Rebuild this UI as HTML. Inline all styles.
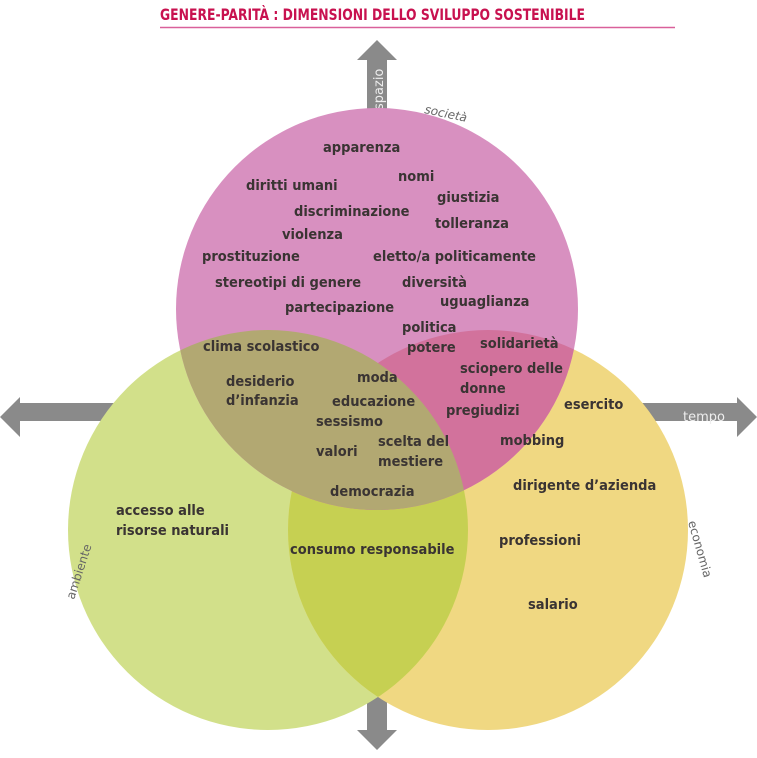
<!DOCTYPE html>
<html><head><meta charset="utf-8"><style>
body{margin:0;background:#fff;width:757px;height:758px;overflow:hidden}
svg{display:block}
.t{font-family:"DejaVu Sans Condensed","Liberation Sans",sans-serif;font-weight:bold;font-size:14.5px;fill:#3a3433}
</style></head><body>
<svg width="757" height="758" viewBox="0 0 757 758">
<defs>
<clipPath id="cp"><circle cx="377" cy="309" r="201"/></clipPath>
<clipPath id="cg"><circle cx="268" cy="530" r="200"/></clipPath>
<clipPath id="cy"><circle cx="488" cy="530" r="200"/></clipPath>
</defs>
<text x="160" y="20" textLength="425" lengthAdjust="spacingAndGlyphs" style="font-family:'DejaVu Sans Condensed','Liberation Sans',sans-serif;font-weight:bold;font-size:16px;fill:#c8114f">GENERE-PARITÀ : DIMENSIONI DELLO SVILUPPO SOSTENIBILE</text>
<line x1="160" y1="27.5" x2="675" y2="27.5" stroke="#d9609a" stroke-width="1.5"/>
<g fill="#8a8a8a">
<polygon points="367,60 357,60 377,40 397,60 387,60 387,730 397,730 377,750 357,730 367,730"/>
<polygon points="20,403 20,397 0,417 20,437 20,421 737,421 737,437 757,417 737,397 737,403"/>
</g>
<text x="0" y="0" transform="translate(383,110) rotate(-90)" style="font-family:'DejaVu Sans','Liberation Sans',sans-serif;font-size:13px;fill:#eee">spazio</text>
<text x="683" y="421" style="font-family:'DejaVu Sans','Liberation Sans',sans-serif;font-size:13px;fill:#eee">tempo</text>
<circle cx="268" cy="530" r="200" fill="#d2e08a"/>
<circle cx="488" cy="530" r="200" fill="#f0d882"/>
<g clip-path="url(#cg)"><circle cx="488" cy="530" r="200" fill="#c6d052"/></g>
<circle cx="377" cy="309" r="201" fill="#d890c0"/>
<g clip-path="url(#cy)"><circle cx="377" cy="309" r="201" fill="#d2729c"/></g>
<g clip-path="url(#cg)"><circle cx="377" cy="309" r="201" fill="#b2a872"/></g>
<text transform="translate(424,113) rotate(12)" style="font-family:'DejaVu Sans','Liberation Sans',sans-serif;font-size:12px;font-style:italic;fill:#666">società</text>
<text transform="translate(74,600) rotate(-72)" style="font-family:'DejaVu Sans','Liberation Sans',sans-serif;font-size:12px;fill:#666">ambiente</text>
<text transform="translate(688,522) rotate(74)" style="font-family:'DejaVu Sans','Liberation Sans',sans-serif;font-size:12px;fill:#666">economia</text>
<g class="t">
<text x="323" y="152">apparenza</text>
<text x="398" y="181">nomi</text>
<text x="246" y="190">diritti umani</text>
<text x="437" y="202">giustizia</text>
<text x="294" y="216">discriminazione</text>
<text x="435" y="228">tolleranza</text>
<text x="282" y="239">violenza</text>
<text x="202" y="261">prostituzione</text>
<text x="373" y="261">eletto/a politicamente</text>
<text x="215" y="287">stereotipi di genere</text>
<text x="402" y="287">diversità</text>
<text x="440" y="306">uguaglianza</text>
<text x="285" y="312">partecipazione</text>
<text x="402" y="332">politica</text>
<text x="407" y="352">potere</text>
<text x="480" y="348">solidarietà</text>
<text x="203" y="351">clima scolastico</text>
<text x="460" y="373">sciopero delle</text>
<text x="460" y="393">donne</text>
<text x="226" y="386">desiderio</text>
<text x="226" y="405">d’infanzia</text>
<text x="357" y="382">moda</text>
<text x="332" y="406">educazione</text>
<text x="316" y="426">sessismo</text>
<text x="446" y="415">pregiudizi</text>
<text x="564" y="409">esercito</text>
<text x="378" y="446">scelta del</text>
<text x="378" y="466">mestiere</text>
<text x="316" y="456">valori</text>
<text x="500" y="445">mobbing</text>
<text x="330" y="496">democrazia</text>
<text x="513" y="490">dirigente d’azienda</text>
<text x="116" y="515">accesso alle</text>
<text x="116" y="535">risorse naturali</text>
<text x="290" y="554">consumo responsabile</text>
<text x="499" y="545">professioni</text>
<text x="528" y="609">salario</text>
</g>
</svg>
</body></html>
